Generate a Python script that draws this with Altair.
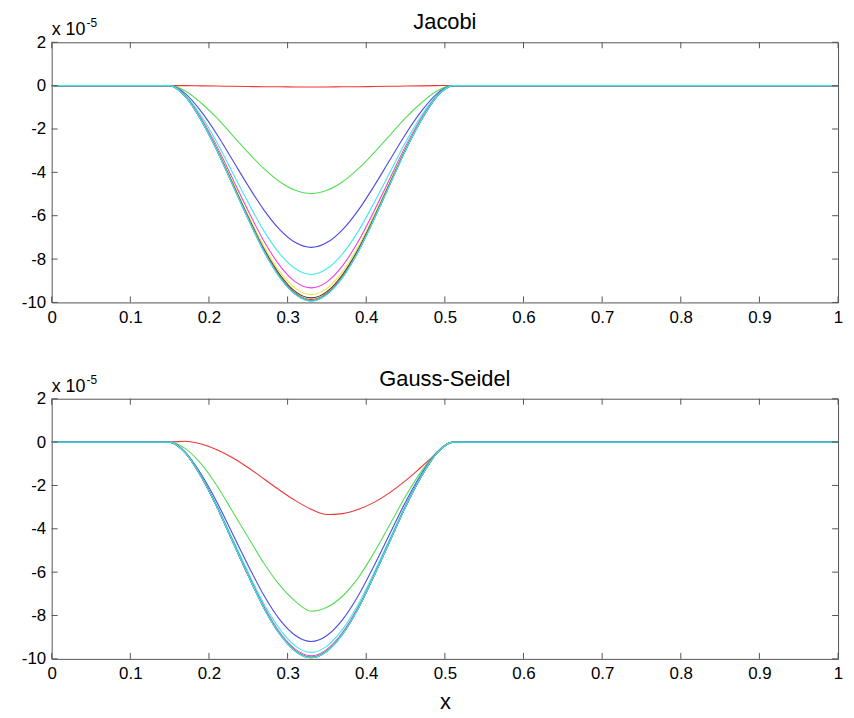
import altair as alt
import pandas as pd

# ---------------- data ----------------
x_pts = [0.0, 0.15, 0.17, 0.19, 0.21, 0.23, 0.25, 0.27, 0.29, 0.31, 0.33,
         0.35, 0.37, 0.39, 0.41, 0.43, 0.45, 0.47, 0.49, 0.51, 1.0]

x_ticks = [0, 0.1, 0.2, 0.3, 0.4, 0.5, 0.6, 0.7, 0.8, 0.9, 1.0]
y_ticks = [-10, -8, -6, -4, -2, 0, 2]

series_colors = ["#ee3535", "#55dd55", "#4a4ae0", "#40eaea", "#ea40ea",
                 "#eaea3a", "#3a3a3a", "#ee3535", "#55dd55", "#4a4ae0", "#40eaea"]

# Jacobi iterates (units of 1e-5)
jac_01 = [0, 0, 0.00, -0.01, -0.02, -0.03, -0.04, -0.05, -0.05, -0.06, -0.06,
          -0.06, -0.05, -0.05, -0.04, -0.03, -0.02, -0.01, 0.00, 0.01, 0]
jac_02 = [0, 0, -0.25, -0.80, -1.49, -2.29, -3.09, -3.83, -4.43, -4.83, -4.98,
          -4.83, -4.43, -3.83, -3.09, -2.29, -1.49, -0.80, -0.25, 0, 0]
jac_03 = [0, 0, -0.37, -1.19, -2.24, -3.43, -4.63, -5.74, -6.64, -7.24, -7.46,
          -7.24, -6.64, -5.74, -4.63, -3.43, -2.24, -1.19, -0.37, 0, 0]
jac_04 = [0, 0, -0.44, -1.39, -2.61, -4.01, -5.40, -6.71, -7.75, -8.45, -8.71,
          -8.45, -7.75, -6.71, -5.40, -4.01, -2.61, -1.39, -0.44, 0, 0]
jac_05 = [0, 0, -0.47, -1.49, -2.80, -4.29, -5.78, -7.18, -8.30, -9.05, -9.33,
          -9.05, -8.30, -7.18, -5.78, -4.29, -2.80, -1.49, -0.47, 0, 0]
jac_06 = [0, 0, -0.48, -1.54, -2.89, -4.43, -5.98, -7.42, -8.58, -9.35, -9.64,
          -9.35, -8.58, -7.42, -5.98, -4.43, -2.89, -1.54, -0.48, 0, 0]
jac_07 = [0, 0, -0.49, -1.57, -2.94, -4.50, -6.07, -7.54, -8.71, -9.50, -9.79,
          -9.50, -8.71, -7.54, -6.07, -4.50, -2.94, -1.57, -0.49, 0, 0]
jac_08 = [0, 0, -0.49, -1.58, -2.96, -4.54, -6.12, -7.60, -8.78, -9.57, -9.87,
          -9.57, -8.78, -7.60, -6.12, -4.54, -2.96, -1.58, -0.49, 0, 0]
jac_09 = [0, 0, -0.50, -1.59, -2.97, -4.56, -6.14, -7.63, -8.82, -9.61, -9.91,
          -9.61, -8.82, -7.63, -6.14, -4.56, -2.97, -1.59, -0.50, 0, 0]
jac_10 = [0, 0, -0.50, -1.59, -2.98, -4.57, -6.16, -7.65, -8.84, -9.63, -9.93,
          -9.63, -8.84, -7.65, -6.16, -4.57, -2.98, -1.59, -0.50, 0, 0]
jac_11 = [0, 0, -0.50, -1.59, -2.98, -4.57, -6.16, -7.65, -8.85, -9.64, -9.94,
          -9.64, -8.85, -7.65, -6.16, -4.57, -2.98, -1.59, -0.50, 0, 0]

# Gauss-Seidel iterates (units of 1e-5)
gs_01 = [0, 0, 0.04, -0.09, -0.35, -0.72, -1.18, -1.70, -2.22, -2.70, -3.10,
         -3.34, -3.30, -3.10, -2.78, -2.33, -1.78, -1.15, -0.50, 0, 0]
gs_02 = [0, 0, -0.30, -1.00, -2.00, -3.20, -4.40, -5.60, -6.60, -7.35, -7.80,
         -7.62, -7.10, -6.25, -5.10, -3.80, -2.50, -1.35, -0.45, 0, 0]
gs_03 = [0, 0, -0.46, -1.47, -2.76, -4.23, -5.70, -7.08, -8.19, -8.92, -9.20,
         -8.92, -8.19, -7.08, -5.70, -4.23, -2.76, -1.47, -0.46, 0, 0]
gs_04 = [0, 0, -0.49, -1.55, -2.91, -4.46, -6.01, -7.47, -8.63, -9.41, -9.70,
         -9.41, -8.63, -7.47, -6.01, -4.46, -2.91, -1.55, -0.49, 0, 0]
gs_05 = [0, 0, -0.49, -1.58, -2.96, -4.54, -6.11, -7.59, -8.78, -9.56, -9.86,
         -9.56, -8.78, -7.59, -6.11, -4.54, -2.96, -1.58, -0.49, 0, 0]
gs_06 = [0, 0, -0.50, -1.59, -2.97, -4.56, -6.14, -7.63, -8.82, -9.61, -9.91,
         -9.61, -8.82, -7.63, -6.14, -4.56, -2.97, -1.59, -0.50, 0, 0]
gs_07 = [0, 0, -0.50, -1.59, -2.98, -4.57, -6.16, -7.65, -8.84, -9.63, -9.93,
         -9.63, -8.84, -7.65, -6.16, -4.57, -2.98, -1.59, -0.50, 0, 0]
gs_08 = [0, 0, -0.50, -1.59, -2.98, -4.57, -6.16, -7.65, -8.85, -9.64, -9.94,
         -9.64, -8.85, -7.65, -6.16, -4.57, -2.98, -1.59, -0.50, 0, 0]
gs_09 = [0, 0, -0.50, -1.59, -2.98, -4.57, -6.16, -7.66, -8.85, -9.65, -9.95,
         -9.65, -8.85, -7.66, -6.16, -4.57, -2.98, -1.59, -0.50, 0, 0]
gs_10 = gs_09
gs_11 = gs_09

jacobi_series = [jac_01, jac_02, jac_03, jac_04, jac_05, jac_06, jac_07,
                 jac_08, jac_09, jac_10, jac_11]
gs_series = [gs_01, gs_02, gs_03, gs_04, gs_05, gs_06, gs_07,
             gs_08, gs_09, gs_10, gs_11]

# ---------------- chart ----------------
W, H = 792, 262
FONT = "Liberation Sans"
BOX = "#555555"
ids = [f"{i + 1:02d}" for i in range(len(series_colors))]


def x_enc(title=None):
    return alt.X("x:Q", scale=alt.Scale(domain=[0, 1], nice=False, zero=False),
                 axis=alt.Axis(values=x_ticks, format="~g", title=title, grid=False,
                               domain=False, ticks=False, tickSize=0, labelPadding=7,
                               labelFlush=False, labelOverlap=False,
                               labelFont=FONT, labelFontSize=17, labelColor="black",
                               titleFont=FONT, titleFontSize=22, titleFontWeight="normal",
                               titleColor="black", titlePadding=10))


def y_enc():
    return alt.Y("y:Q", scale=alt.Scale(domain=[-10, 2], nice=False, zero=False),
                 axis=alt.Axis(values=y_ticks, labelExpr="datum.value + ''", title=None,
                               grid=False, domain=False, ticks=False, tickSize=0,
                               labelPadding=6, labelFlush=False, labelOverlap=False,
                               labelFont=FONT, labelFontSize=17, labelColor="black"))


def panel(series, title, xtitle=None):
    rows = []
    for sid, vals in zip(ids, series):
        for xv, yv in zip(x_pts, vals):
            rows.append({"x": xv, "y": yv, "s": sid})
    df = pd.DataFrame(rows)

    lines = alt.Chart(df).mark_line(strokeWidth=1.1, interpolate="monotone", clip=True).encode(
        x=x_enc(xtitle), y=y_enc(),
        color=alt.Color("s:N", scale=alt.Scale(domain=ids, range=series_colors), legend=None),
    )

    xt = pd.DataFrame({"x": x_ticks})
    yt = pd.DataFrame({"y": y_ticks})
    tb = alt.Chart(xt).mark_rule(color=BOX, strokeWidth=1).encode(
        x=x_enc(xtitle), y=alt.value(H), y2=alt.value(H - 6))
    tt = alt.Chart(xt).mark_rule(color=BOX, strokeWidth=1).encode(
        x=x_enc(xtitle), y=alt.value(0), y2=alt.value(6))
    tl = alt.Chart(yt).mark_rule(color=BOX, strokeWidth=1).encode(
        y=y_enc(), x=alt.value(0), x2=alt.value(6))
    tr = alt.Chart(yt).mark_rule(color=BOX, strokeWidth=1).encode(
        y=y_enc(), x=alt.value(W - 6), x2=alt.value(W))

    txt_df = pd.DataFrame({"t": ["x 10"], "e": ["-5"], "title": [title]})
    exp_main = alt.Chart(txt_df).mark_text(
        align="left", baseline="alphabetic", font=FONT, fontSize=18, color="black"
    ).encode(text="t:N", x=alt.value(0), y=alt.value(-7))
    exp_sup = alt.Chart(txt_df).mark_text(
        align="left", baseline="alphabetic", font=FONT, fontSize=12, color="black"
    ).encode(text="e:N", x=alt.value(35), y=alt.value(-15))
    ttl = alt.Chart(txt_df).mark_text(
        align="center", baseline="alphabetic", font=FONT, fontSize=22, color="black"
    ).encode(text="title:N", x=alt.value(W / 2), y=alt.value(-13))

    return alt.layer(lines, tb, tt, tl, tr, exp_main, exp_sup, ttl).properties(
        width=W, height=H,
    )


top = panel(jacobi_series, "Jacobi")
bottom = panel(gs_series, "Gauss-Seidel", xtitle="x")

chart = alt.vconcat(top, bottom, spacing=41).properties(
    padding={"left": 12, "top": 0, "right": 2, "bottom": 0},
    background="white",
).configure_view(stroke=BOX, strokeWidth=1)

chart.save("out.html", embed_options={"renderer": "svg", "actions": False})
